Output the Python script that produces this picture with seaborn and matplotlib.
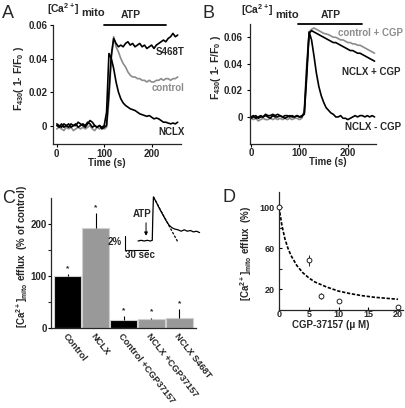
import numpy as np
import pandas as pd
import matplotlib
matplotlib.use('Agg')
import matplotlib.pyplot as plt
import matplotlib.transforms as mtransforms
import seaborn as sns

W, H = 406, 408

# Panels A and B: mitochondrial Ca2+ traces, F430 (1-F/F0), one point every 5 s
trace_time = list(range(0, 260, 5))
a_s468t = [0.000, -0.001, 0.001, -0.001, 0.000, 0.001, -0.001, 0.000, 0.001, -0.001, 0.000,
           0.001, 0.000, 0.002, 0.001, -0.001, 0.000, -0.001, 0.000, -0.002, -0.001,
           0.000, 0.020, 0.042, 0.052, 0.049, 0.047, 0.048, 0.047, 0.049, 0.050,
           0.048, 0.049, 0.047, 0.048, 0.049, 0.047, 0.048, 0.046, 0.047, 0.048,
           0.046, 0.048, 0.049, 0.050, 0.051, 0.050, 0.052, 0.053, 0.055, 0.053, 0.054]
a_control = [-0.002, -0.001, -0.002, -0.003, -0.001, -0.002, -0.001, -0.003, -0.002, -0.001, -0.002,
             -0.001, -0.002, -0.001, 0.000, -0.002, -0.003, -0.001, -0.002, -0.001, -0.002,
             -0.001, 0.015, 0.040, 0.053, 0.047, 0.044, 0.040, 0.037, 0.035, 0.032,
             0.030, 0.029, 0.029, 0.028, 0.028, 0.027, 0.027, 0.026, 0.027, 0.026,
             0.026, 0.027, 0.027, 0.028, 0.027, 0.028, 0.028, 0.027, 0.028, 0.028, 0.029]
a_nclx = [0.001, 0.000, -0.001, 0.001, 0.000, -0.001, 0.001, 0.000, 0.000, 0.002, 0.001,
          0.000, -0.001, 0.001, 0.003, 0.002, 0.000, -0.001, 0.000, -0.001, 0.000,
          0.008, 0.043, 0.040, 0.034, 0.026, 0.020, 0.016, 0.0135, 0.012, 0.011,
          0.010, 0.0095, 0.009, 0.008, 0.007, 0.0065, 0.006, 0.0055, 0.006, 0.005,
          0.004, 0.0045, 0.004, 0.003, 0.002, 0.002, 0.0015, 0.001, 0.0015, 0.001, 0.002]

b_control_cgp = [-0.001, -0.002, -0.001, -0.003, -0.002, -0.001, -0.002, -0.002, -0.001, -0.002, -0.001,
                 -0.002, -0.001, -0.002, -0.001, -0.002, -0.001, -0.002, -0.001, -0.001, -0.002,
                 -0.001, 0.005, 0.040, 0.064, 0.066, 0.067, 0.066, 0.065, 0.064, 0.063,
                 0.0625, 0.062, 0.061, 0.060, 0.060, 0.059, 0.058, 0.058, 0.057, 0.056,
                 0.056, 0.055, 0.055, 0.054, 0.054, 0.053, 0.052, 0.051, 0.050, 0.049, 0.048]
b_nclx_cgp = [0.000, 0.001, -0.001, 0.000, 0.001, 0.000, 0.002, 0.001, 0.001, 0.002, 0.001,
              0.002, 0.001, 0.000, 0.001, 0.001, 0.000, 0.001, 0.000, 0.001, 0.000,
              0.000, 0.003, 0.035, 0.063, 0.065, 0.064, 0.063, 0.062, 0.061, 0.060,
              0.059, 0.058, 0.057, 0.056, 0.056, 0.055, 0.054, 0.053, 0.052, 0.051,
              0.050, 0.050, 0.049, 0.048, 0.048, 0.047, 0.046, 0.045, 0.044, 0.043, 0.042]
b_nclx_no_cgp = [-0.001, 0.000, 0.001, -0.001, 0.000, 0.000, 0.001, 0.000, -0.001, 0.001, 0.000,
                 0.000, 0.001, 0.000, -0.001, 0.000, 0.001, 0.000, 0.000, 0.001, 0.000,
                 0.001, 0.002, 0.030, 0.064, 0.058, 0.046, 0.033, 0.023, 0.016, 0.011,
                 0.007, 0.005, 0.003, 0.002, 0.000, 0.000, 0.001, -0.001, -0.001, -0.002,
                 -0.001, 0.000, 0.001, 0.000, 0.001, 0.001, 0.000, 0.001, 0.000, 0.001, 0.000]

# Panel C: efflux rate, % of control
c_groups = ['Control', 'NCLX', 'Control +CGP37157', 'NCLX +CGP37157', 'NCLX S468T']
c_mean = [100, 193, 15, 17, 19]
c_err = [4, 28, 8, 3, 17]
c_colors = ['black', '#999999', 'black', '#999999', '#999999']

# inset of panel C: example trace (s, %)
ins_time = [0, 4, 8, 12, 16, 18.5, 19.2, 20, 24, 28, 32, 36, 40, 44, 48, 52, 56, 60, 64, 68, 72, 76, 80]
ins_signal = [0.0, 0.1, 0.0, 0.1, 0.0, 0.1, 3.5, 6.3, 5.5, 4.6, 3.8, 3.0, 2.3, 1.9, 1.7, 1.6, 1.4, 1.6, 1.4, 1.5, 1.3, 1.4, 1.2]
ins_fit_time = [20, 52]
ins_fit_signal = [6.3, -0.2]

# Panel D: dose response to CGP-37157
d_conc = [0, 5, 7, 10, 20]
d_efflux = [100, 48, 13, 8, 2]
d_err = [0, 5, 3, 2, 1]
fit_conc = [0, 0.5, 1, 1.5, 2, 3, 4, 5, 6, 8, 10, 12, 14, 16, 18, 20]
fit_efflux = [100, 82, 69, 60, 53, 43, 36, 31, 27, 22, 18, 15.5, 13.5, 12, 11, 10]

sns.set_style('ticks')
plt.rcParams['font.family'] = ['Liberation Sans', 'DejaVu Sans']
plt.rcParams['font.weight'] = 'bold'
plt.rcParams['mathtext.fontset'] = 'custom'
plt.rcParams['mathtext.rm'] = 'Liberation Sans:bold'
plt.rcParams['mathtext.it'] = 'Liberation Sans:bold:italic'
plt.rcParams['mathtext.bf'] = 'Liberation Sans:bold'
plt.rcParams['axes.linewidth'] = 0.9

fig = plt.figure(figsize=(W / 100, H / 100), dpi=100)


def box(x0, y0, x1, y1):
    # pixel box (top-left origin) -> figure fraction rect
    return [x0 / W, 1 - y1 / H, (x1 - x0) / W, (y1 - y0) / H]


def ftext(x, y, s, **kw):
    kw.setdefault('fontsize', 7)
    fig.text(x / W, 1 - y / H, s, **kw)


def style(ax, pad=2, labelsize=7):
    sns.despine(ax=ax)
    ax.tick_params(length=2, width=0.8, pad=pad, labelsize=labelsize, color='black')
    ax.tick_params(which='minor', length=2, width=0.8)


def atp_bar(ax, x0, x1):
    tr = mtransforms.blended_transform_factory(ax.transData, ax.transAxes)
    ax.plot([x0, x1], [1.0, 1.0], color='black', lw=1.3, transform=tr, clip_on=False)


# ---- A
df_a = pd.DataFrame({
    'time': trace_time * 3,
    'value': a_control + a_s468t + a_nclx,
    'trace': ['control'] * len(a_control) + ['S468T'] * len(a_s468t) + ['NCLX'] * len(a_nclx),
})
ax_a = fig.add_axes(box(53, 25, 181, 144))
sns.lineplot(data=df_a, x='time', y='value', hue='trace', ax=ax_a, legend=False, lw=1.2,
             palette={'control': '#8c8c8c', 'S468T': 'black', 'NCLX': 'black'})
ax_a.set_xlim(-8, 262)
ax_a.set_ylim(-0.011, 0.06)
ax_a.set_xticks([0, 100, 200])
ax_a.set_yticks([0, 0.02, 0.04, 0.06], ['0', '0.02', '0.04', '0.06'])
ax_a.set_xlabel('')
ax_a.set_ylabel('')
style(ax_a)
ax_a.tick_params(axis='x', pad=1.5)
atp_bar(ax_a, 100, 230)
ax_a.text(270, 0.044, 'S468T', ha='right', va='center', fontsize=7, clip_on=False)
ax_a.text(270, 0.0224, 'control', ha='right', va='center', fontsize=7, color='#8c8c8c', clip_on=False)
ax_a.text(270, -0.0036, 'NCLX', ha='right', va='center', fontsize=7, clip_on=False)

# ---- B
df_b = pd.DataFrame({
    'time': trace_time * 3,
    'value': b_control_cgp + b_nclx_cgp + b_nclx_no_cgp,
    'trace': ['control + CGP'] * len(b_control_cgp) + ['NCLX + CGP'] * len(b_nclx_cgp)
             + ['NCLX - CGP'] * len(b_nclx_no_cgp),
})
ax_b = fig.add_axes(box(250, 24, 376, 143.5))
sns.lineplot(data=df_b, x='time', y='value', hue='trace', ax=ax_b, legend=False, lw=1.2,
             palette={'control + CGP': '#8c8c8c', 'NCLX + CGP': 'black', 'NCLX - CGP': 'black'})
ax_b.set_xlim(-2, 258)
ax_b.set_ylim(-0.02, 0.07)
ax_b.set_xticks([0, 100, 200])
ax_b.set_yticks([0, 0.02, 0.04, 0.06], ['0', '0.02', '0.04', '0.06'])
ax_b.set_xlabel('')
ax_b.set_ylabel('')
style(ax_b, pad=3)
ax_b.tick_params(axis='x', pad=1.5)
atp_bar(ax_b, 98, 229)
ax_b.text(313, 0.0634, 'control + CGP', ha='right', va='center', fontsize=7, color='#8c8c8c', clip_on=False)
ax_b.text(309, 0.034, 'NCLX + CGP', ha='right', va='center', fontsize=7, clip_on=False)
ax_b.text(309, -0.0075, 'NCLX - CGP', ha='right', va='center', fontsize=7, clip_on=False)

# ---- C
ax_c = fig.add_axes(box(51, 198, 196, 328))
sns.barplot(x=c_groups, y=c_mean, hue=c_groups, palette=c_colors, width=0.95, legend=False,
            edgecolor='#d0d0d0', linewidth=0.8, ax=ax_c, errorbar=None)
ax_c.errorbar(range(len(c_groups)), c_mean, yerr=[[0] * len(c_err), c_err], fmt='none',
              ecolor='black', elinewidth=0.8, capsize=0)
for i, (m, e) in enumerate(zip(c_mean, c_err)):
    ax_c.text(i, m + e + 4, '*', ha='center', va='bottom', fontsize=6)
ax_c.set_xlim(-0.6, 4.6)
ax_c.set_ylim(0, 250)
ax_c.set_yticks([0, 100, 200])
ax_c.set_yticks([50, 150], minor=True)
ax_c.set_xticks(range(len(c_groups)))
ax_c.set_xticklabels(c_groups, rotation=-52, ha='left', va='top', rotation_mode='anchor')
style(ax_c, pad=1)
ax_c.tick_params(axis='x', length=0, pad=3, labelsize=6.6)

# inset trace in C
ax_in = fig.add_axes(box(100, 190, 205, 265))
ax_in.axis('off')
sns.lineplot(x=ins_time, y=ins_signal, ax=ax_in, color='black', lw=0.9)
ax_in.plot(ins_fit_time, ins_fit_signal, color='black', lw=0.9, dashes=[2, 1.2])
ax_in.plot([-17.5, -17.5, 12.5], [0.75, -1.25, -1.25], color='black', lw=0.8)
ax_in.annotate('', xy=(10.4, 0.35), xytext=(10.4, 3.0),
               arrowprops=dict(arrowstyle='-|>', lw=0.7, color='black', mutation_scale=5))
ax_in.text(5.2, 3.4, 'ATP', ha='center', va='baseline', fontsize=7)
ax_in.text(-20.5, -0.2, '2%', ha='right', va='center', fontsize=7)
ax_in.text(2.6, -2.45, '30 sec', ha='center', va='baseline', fontsize=7)
ax_in.set_xlim(-49.4, 87)
ax_in.set_ylim(-3.43, 7.29)

# ---- D
ax_d = fig.add_axes(box(279, 192, 402.8, 309.5))
sns.lineplot(x=fit_conc, y=fit_efflux, ax=ax_d, color='black', lw=1.2)
ax_d.lines[-1].set_dashes([2, 1])
ax_d.errorbar(d_conc, d_efflux, yerr=d_err, fmt='o', mfc='white', mec='black', ms=3.5, mew=0.6,
              ecolor='black', elinewidth=0.6, capsize=0, clip_on=False, zorder=3)
ax_d.set_xlim(0, 20.8)
ax_d.set_ylim(0, 115)
ax_d.set_xticks([0, 5, 10, 15, 20])
ax_d.set_yticks([20, 60, 100])
ax_d.set_yticks([40, 80], minor=True)
style(ax_d, pad=1, labelsize=6.5)
ax_d.tick_params(direction='in', which='both')
ax_d.tick_params(axis='x', pad=0.5)
ax_d.tick_params(axis='y', pad=3)

# panel letters and free text
for letter, x, y in [('A', 2, 18), ('B', 203, 18), ('C', 2, 203), ('D', 223, 202)]:
    ftext(x, y, letter, fontsize=13, fontweight='normal', va='baseline')

# [Ca2+]mito headers: "[Ca2+]" followed by a larger, lowered "mito"
for x_split, y0 in [(80, 13), (274, 14)]:
    ftext(x_split, y0, r'[Ca$^{2+}$]', ha='right', va='baseline', fontsize=7.5)
    ftext(x_split + 1.5, y0 + 3.5, 'mito', ha='left', va='baseline', fontsize=8)

ftext(131, 18, 'ATP', ha='center', va='baseline', fontsize=7.5)
ftext(331, 18, 'ATP', ha='center', va='baseline', fontsize=7.5)
ftext(107, 166, 'Time (s)', ha='center', va='baseline')
ftext(328, 165, 'Time (s)', ha='center', va='baseline')
ftext(19, 78, r'F$_{430}$( 1- F/F$_0$ )', ha='center', va='center', rotation=90, fontsize=7.5)
ftext(216, 67, r'F$_{430}$( 1- F/F$_0$ )', ha='center', va='center', rotation=90, fontsize=7.5)
ftext(22, 257, r'[Ca$^{2+}$]$_{\rm mito}$ efflux  (% of control)', ha='center', va='center', rotation=90)
ftext(246, 253, r'[Ca$^{2+}$]$_{\rm mito}$ efflux  (%)', ha='center', va='center', rotation=90)
ftext(331, 328.5, 'CGP-37157 (μ M)', ha='center', va='baseline')

fig.savefig('out.png', dpi=100)
